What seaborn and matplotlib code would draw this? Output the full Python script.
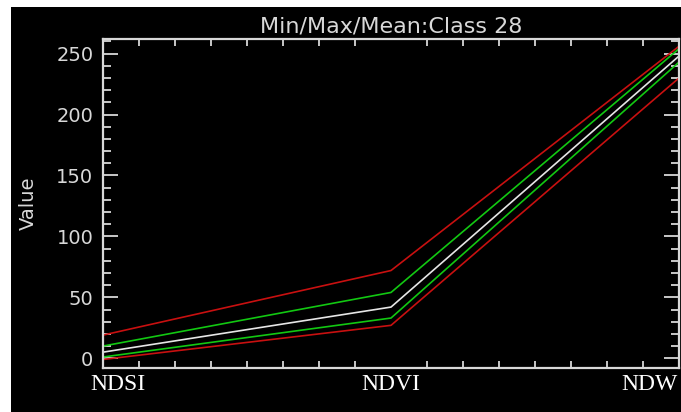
# Min/Max/Mean plot for class 28 (ENVI style, black background)

import pandas as pd
import matplotlib
matplotlib.use('Agg')
import matplotlib.pyplot as plt
import matplotlib.transforms as mtrans
from matplotlib.patches import Rectangle
from matplotlib.ticker import MultipleLocator, FixedLocator
import seaborn as sns

bands = ['NDSI', 'NDVI', 'NDW']
v_max = [19, 72, 256]
v_plus = [10, 54, 254]     # mean + stdev
v_mean = [5, 42, 248]
v_minus = [1, 33, 243]     # mean - stdev
v_min = [-1, 27, 230]

stats = ['Max', 'Mean+Stdev', 'Mean', 'Mean-Stdev', 'Min']
series = [v_max, v_plus, v_mean, v_minus, v_min]
colors = {'Max': '#c81010', 'Mean+Stdev': '#12c812', 'Mean': '#e6e6e6',
          'Mean-Stdev': '#12c812', 'Min': '#c81010'}

rows = []
for s, vals in zip(stats, series):
    for i, (b, v) in enumerate(zip(bands, vals)):
        rows.append({'band': b, 'pos': i, 'value': v, 'stat': s})
df = pd.DataFrame(rows)

W, H = 681, 412
fig = plt.figure(figsize=(W / 100, H / 100), dpi=100, facecolor='white')
fig.patches.append(Rectangle((11 / W, 0), 1, (H - 7) / H, transform=fig.transFigure,
                             facecolor='black', edgecolor='none', zorder=-5))
ax = fig.add_axes([103 / W, (H - 368) / H, 576 / W, 329 / H], facecolor='black')

sns.lineplot(data=df, x='pos', y='value', hue='stat', hue_order=stats, palette=colors,
             ax=ax, legend=False, linewidth=1.2, estimator=None)

ax.set_xlim(0, 2)
ax.set_ylim(-8, 262)
fg = '#d8d8d8'
for sp in ax.spines.values():
    sp.set_color(fg)
    sp.set_linewidth(1.6)

# x ticks: labels at bands, tick marks every 1/8
ax.xaxis.set_major_locator(FixedLocator(range(len(bands))))
ax.set_xticklabels(bands)
ax.xaxis.set_minor_locator(MultipleLocator(0.125))
ax.yaxis.set_major_locator(MultipleLocator(50))
ax.yaxis.set_minor_locator(MultipleLocator(10))
ax.tick_params(axis='both', which='both', direction='in', colors=fg, top=True, right=True, width=1.3)
ax.tick_params(axis='x', which='major', length=0, pad=4, labelsize=17, labelcolor='white')
ax.tick_params(axis='x', which='minor', length=5)
ax.tick_params(axis='y', which='major', length=11, pad=7, labelsize=14)
ax.tick_params(axis='y', which='minor', length=6)
for lab in ax.get_xticklabels():
    lab.set_family('Liberation Serif')
xl = ax.get_xticklabels()
xl[0].set_transform(xl[0].get_transform() + mtrans.ScaledTranslation(15 / 100, 0, fig.dpi_scale_trans))
xl[2].set_transform(xl[2].get_transform() + mtrans.ScaledTranslation(-30 / 100, 0, fig.dpi_scale_trans))

ax.set_xlabel('')
ax.set_ylabel('Value', color=fg, fontsize=14, labelpad=13)
ax.set_title('Min/Max/Mean:Class 28', color=fg, fontsize=16, pad=5)

fig.savefig('out.png', dpi=100, facecolor=fig.get_facecolor())
